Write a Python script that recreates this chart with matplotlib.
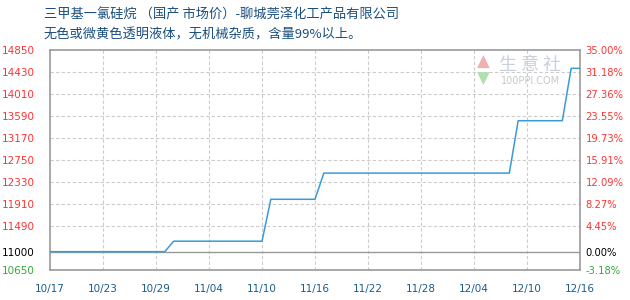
import matplotlib
matplotlib.use('Agg')
import matplotlib.pyplot as plt
import numpy as np

plt.rcParams['font.family'] = ['Noto Sans CJK SC', 'DejaVu Sans']

# Datos (precio en yuan/tonelada)
fechas = ['2023-10-17', '2023-10-30', '2023-10-31', '2023-11-10', '2023-11-11',
          '2023-11-16', '2023-11-17', '2023-12-08', '2023-12-09', '2023-12-14',
          '2023-12-15', '2023-12-16']
precios = [11000, 11000, 11200, 11200, 12000, 12000, 12500, 12500, 13500, 13500,
           14500, 14500]

ticks_y = [10650, 11000, 11490, 11910, 12330, 12750, 13170, 13590, 14010, 14430, 14850]
ticks_x = ['2023-10-17', '2023-10-23', '2023-10-29', '2023-11-04', '2023-11-10',
           '2023-11-16', '2023-11-22', '2023-11-28', '2023-12-04', '2023-12-10',
           '2023-12-16']
base = 11000

titulo1 = '三甲基一氯硅烷 （国产 市场价）-聊城莞泽化工产品有限公司'
titulo2 = '无色或微黄色透明液体，无机械杂质，含量99%以上。'

fx = [np.datetime64(f) for f in fechas]
tx = [np.datetime64(f) for f in ticks_x]


def color_etiqueta(v):
    if v == base:
        return 'black'
    if v < base:
        return '#33aa33'
    return '#ff3333'


fig = plt.figure(figsize=(6.3, 3.0), dpi=100)
ax = fig.add_axes([50 / 630, 30 / 300, 530 / 630, 220 / 300])

ax.plot(fx, precios, color='#3a9ad9', lw=1.1, zorder=3)
ax.axhline(base, color='#999999', lw=1.0, zorder=2)

ax.set_xlim(tx[0], tx[-1])
ax.set_ylim(ticks_y[0], ticks_y[-1])
ax.set_xticks(tx)
ax.set_xticklabels([t[5:7] + '/' + t[8:] for t in ticks_x])
ax.set_yticks(ticks_y)
ax.set_yticklabels([str(v) for v in ticks_y])

for y in ticks_y[2:-1]:
    ax.axhline(y, color='#cccccc', lw=0.8, ls=(0, (3, 2)), zorder=1)
for x in tx[1:-1]:
    ax.axvline(x, color='#cccccc', lw=0.8, ls=(0, (3, 2)), zorder=1)

for s in ax.spines.values():
    s.set_color('#999999')
    s.set_linewidth(1.2)

ax.tick_params(axis='both', length=0, labelsize=7.5)
ax.tick_params(axis='x', pad=10, colors='#1a5c8c')
ax.tick_params(axis='y', pad=11)
for lbl, v in zip(ax.get_yticklabels(), ticks_y):
    lbl.set_color(color_etiqueta(v))
    lbl.set_family('DejaVu Sans')
for lbl in ax.get_xticklabels():
    lbl.set_family('DejaVu Sans')

# Eje derecho en porcentaje
ax2 = ax.twinx()
ax2.set_ylim(ax.get_ylim())
ax2.set_yticks(ticks_y)
ax2.set_yticklabels(['%.2f%%' % ((v - base) / base * 100) for v in ticks_y])
ax2.tick_params(axis='y', length=0, labelsize=7.2, pad=4)
for s in ax2.spines.values():
    s.set_visible(False)
for lbl, v in zip(ax2.get_yticklabels(), ticks_y):
    lbl.set_color(color_etiqueta(v))
    lbl.set_family('DejaVu Sans')

# Marca de agua
fig.text(499 / 630, 1 - 65 / 300, '生 意 社', color='#c8d0dc', fontsize=13,
         ha='left', va='center')
fig.text(501 / 630, 1 - 81 / 300, '100PPI.COM', color='#c8c8c8', fontsize=7,
         family='DejaVu Sans', ha='left', va='center')
fig.text(483 / 630, 1 - 62 / 300, '▲', color='#f0b0b0', fontsize=12, ha='center', va='center',
         family='DejaVu Sans')
fig.text(483 / 630, 1 - 79 / 300, '▼', color='#b0e0b0', fontsize=12, ha='center', va='center',
         family='DejaVu Sans')

fig.text(44 / 630, 1 - 15 / 300, titulo1, color='#1a4e80', fontsize=9.5, va='center')
fig.text(44 / 630, 1 - 35 / 300, titulo2, color='#1a4e80', fontsize=9.5, va='center')

fig.savefig('out.png', dpi=100)
